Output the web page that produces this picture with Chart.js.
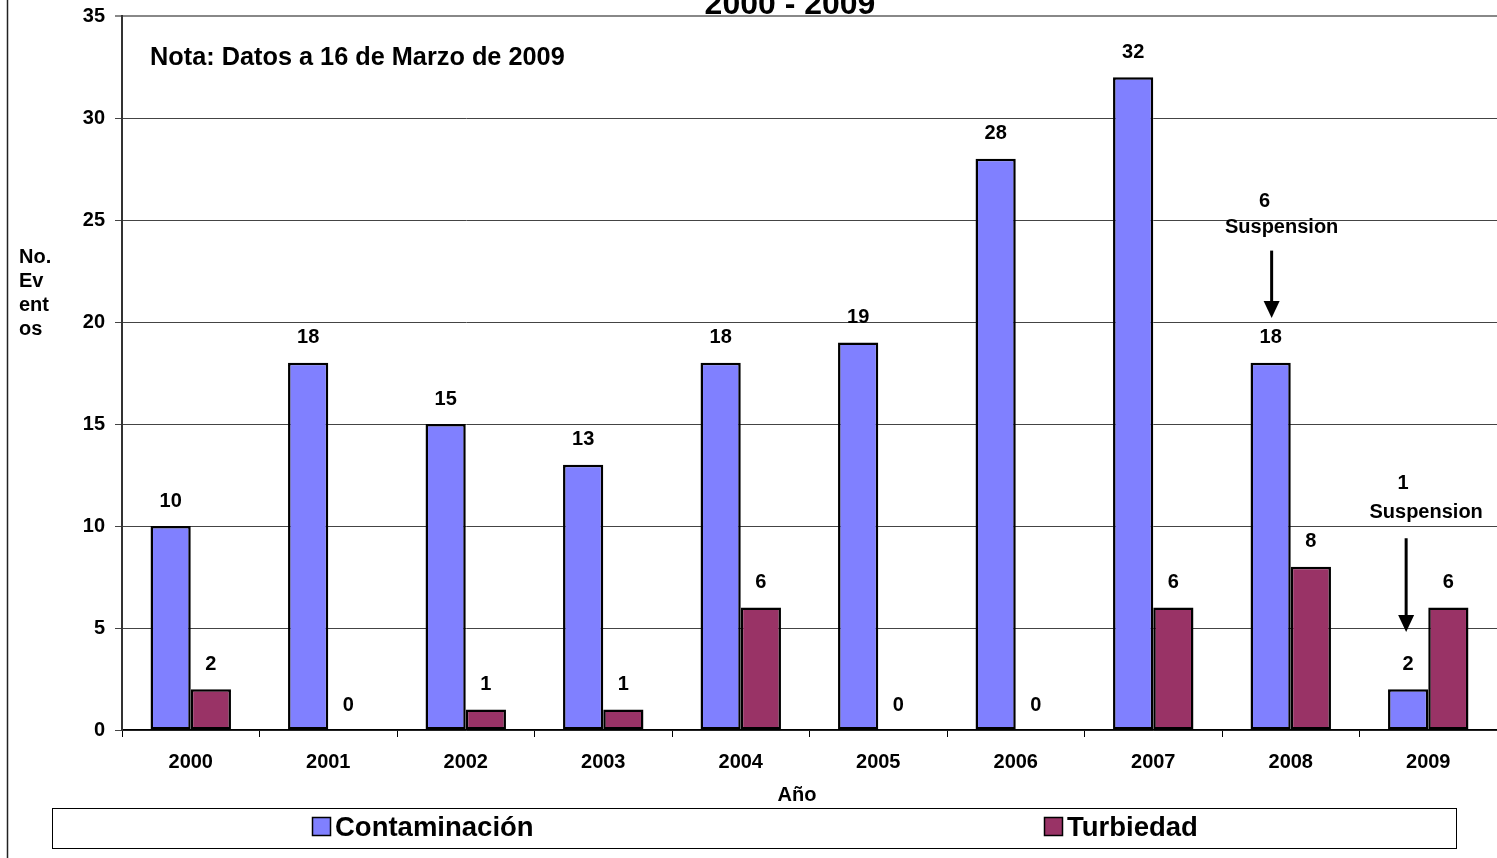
<!DOCTYPE html>
<html>
<head>
<meta charset="utf-8">
<script src="https://cdn.jsdelivr.net/npm/chart.js@4.4.1/dist/chart.umd.min.js"></script>
<style>
  html, body { margin: 0; padding: 0; background: #fff; overflow: hidden; }
  #wrap { width: 1497px; height: 858px; position: relative; overflow: hidden; }
</style>
</head>
<body>
<div id="wrap"><canvas id="c" width="1497" height="858"></canvas></div>
<script>
// ---- data ----
const years = ['2000','2001','2002','2003','2004','2005','2006','2007','2008','2009'];
const contaminacion = [10, 18, 15, 13, 18, 19, 28, 32, 18, 2];
const turbiedad = [2, 0, 1, 1, 6, 0, 0, 6, 8, 6];
const yTicks = [0, 5, 10, 15, 20, 25, 30, 35];
const suspensionYears = ['2008', '2009'];
const suspensionCounts = [6, 1];

const chartTitle = '2000 - 2009';
const noteText = 'Nota: Datos a 16 de Marzo de 2009';
const yTitleLines = ['No.', 'Ev', 'ent', 'os'];
const xTitle = 'Año';

// annotation layout (value units for y, pixel offsets from bar centre for x)
const annLayout = [
  { countY: 25.9, labelY: 24.65, arrowFrom: 23.5, arrowTo: 20.2, countDx: -6, labelDx: 11, arrowDx: 1 },
  { countY: 12.06, labelY: 10.64, arrowFrom: 9.4, arrowTo: 4.8, countDx: -5, labelDx: 18, arrowDx: -2 }
];

const FONT = '"Liberation Sans", Arial, sans-serif';
const BLUE = '#8080FF';
const RED = '#993366';

const extras = {
  id: 'extras',
  beforeDraw(chart) {
    const ctx = chart.ctx;
    ctx.save();
    ctx.fillStyle = '#fff';
    ctx.fillRect(0, 0, chart.width, chart.height);
    ctx.restore();
  },
  afterDraw(chart) {
    const ctx = chart.ctx;
    const xs = chart.scales.x, ys = chart.scales.y;
    ctx.save();
    // outer border line at left
    ctx.strokeStyle = '#222';
    ctx.lineWidth = 1.5;
    ctx.beginPath(); ctx.moveTo(7.5, 0); ctx.lineTo(7.5, chart.height); ctx.stroke();

    // title (clipped at top)
    ctx.fillStyle = '#000';
    ctx.font = 'bold 32px ' + FONT;
    ctx.textAlign = 'center';
    ctx.textBaseline = 'alphabetic';
    ctx.fillText(chartTitle, 790, 14);

    // note
    ctx.font = 'bold 25.3px ' + FONT;
    ctx.textAlign = 'left';
    ctx.textBaseline = 'middle';
    ctx.fillText(noteText, 150, 58);

    // y title
    ctx.font = 'bold 20px ' + FONT;
    yTitleLines.forEach((t, i) => ctx.fillText(t, 19, 257 + i * 24));

    // x title
    ctx.textAlign = 'center';
    ctx.fillText(xTitle, 797, 795);

    // data labels
    ctx.font = 'bold 20px ' + FONT;
    chart.data.datasets.forEach((ds, di) => {
      const meta = chart.getDatasetMeta(di);
      meta.data.forEach((bar, i) => {
        ctx.fillText(String(ds.data[i]), bar.x, bar.y - 25);
      });
    });

    // annotations
    suspensionYears.forEach((yr, k) => {
      const idx = years.indexOf(yr);
      const bar = chart.getDatasetMeta(0).data[idx];
      const L = annLayout[k];
      ctx.fillStyle = '#000';
      ctx.font = 'bold 20px ' + FONT;
      ctx.textAlign = 'center';
      ctx.fillText(String(suspensionCounts[k]), bar.x + L.countDx, ys.getPixelForValue(L.countY));
      ctx.fillText('Suspension', bar.x + L.labelDx, ys.getPixelForValue(L.labelY));
      const ax = bar.x + L.arrowDx;
      const y1 = ys.getPixelForValue(L.arrowFrom), y2 = ys.getPixelForValue(L.arrowTo);
      ctx.strokeStyle = '#000';
      ctx.lineWidth = 3;
      ctx.beginPath(); ctx.moveTo(ax, y1); ctx.lineTo(ax, y2 - 14); ctx.stroke();
      ctx.beginPath();
      ctx.moveTo(ax - 8, y2 - 17); ctx.lineTo(ax + 8, y2 - 17); ctx.lineTo(ax, y2); ctx.closePath();
      ctx.fill();
    });

    // legend box
    ctx.strokeStyle = '#000';
    ctx.lineWidth = 1;
    ctx.strokeRect(52.5, 808.5, 1404, 40);
    const legX = [312, 1044];
    ctx.font = 'bold 27.5px ' + FONT;
    ctx.textAlign = 'left';
    ctx.textBaseline = 'middle';
    chart.data.datasets.forEach((ds, di) => {
      ctx.fillStyle = ds.backgroundColor;
      ctx.fillRect(legX[di], 817, 19, 19);
      ctx.strokeStyle = '#000';
      ctx.lineWidth = 1.5;
      ctx.strokeRect(legX[di] + 0.5, 817.5, 18, 18);
      ctx.fillStyle = '#000';
      ctx.fillText(ds.label, legX[di] + 23, 828);
    });
    ctx.restore();
  }
};

new Chart(document.getElementById('c'), {
  type: 'bar',
  data: {
    labels: years,
    datasets: [
      { label: 'Contaminación', data: contaminacion, backgroundColor: BLUE, borderColor: '#000',
        borderWidth: ctx => (ctx.raw === 0 ? 0 : 2.5), borderSkipped: false },
      { label: 'Turbiedad', data: turbiedad, backgroundColor: RED, borderColor: '#000',
        borderWidth: ctx => (ctx.raw === 0 ? 0 : 2.5), borderSkipped: false }
    ]
  },
  options: {
    responsive: false,
    animation: false,
    devicePixelRatio: 1,
    layout: { padding: { left: 0, right: 0, top: 16, bottom: 0 } },
    plugins: { legend: { display: false }, title: { display: false }, tooltip: { enabled: false } },
    datasets: { bar: { categoryPercentage: 0.585, barPercentage: 1.0 } },
    scales: {
      x: {
        offset: true,
        grid: { offset: true, drawOnChartArea: false, drawTicks: true, tickLength: 7, color: '#000', lineWidth: 1 },
        border: { display: true, color: '#000', width: 1.5 },
        ticks: { font: { family: FONT, size: 20, weight: 'bold' }, color: '#000', padding: 13, maxRotation: 0 },
        afterFit(s) { s.height = 128; }
      },
      y: {
        min: 0, max: 35,
        afterBuildTicks(s) { s.ticks = yTicks.map(v => ({ value: v })); },
        grid: {
          tickLength: 7,
          color: ctx => (ctx.tick && ctx.tick.value === 35 ? '#888' : '#444'),
          lineWidth: ctx => (ctx.tick && ctx.tick.value === 35 ? 2 : 1)
        },
        border: { display: true, color: '#333', width: 2 },
        ticks: { font: { family: FONT, size: 20, weight: 'bold', lineHeight: 0.5 }, color: '#000', padding: 10 },
        afterFit(s) { s.width = 122; s.paddingTop = 0; s.paddingBottom = 0; }
      }
    }
  },
  plugins: [extras]
});
</script>
</body>
</html>
